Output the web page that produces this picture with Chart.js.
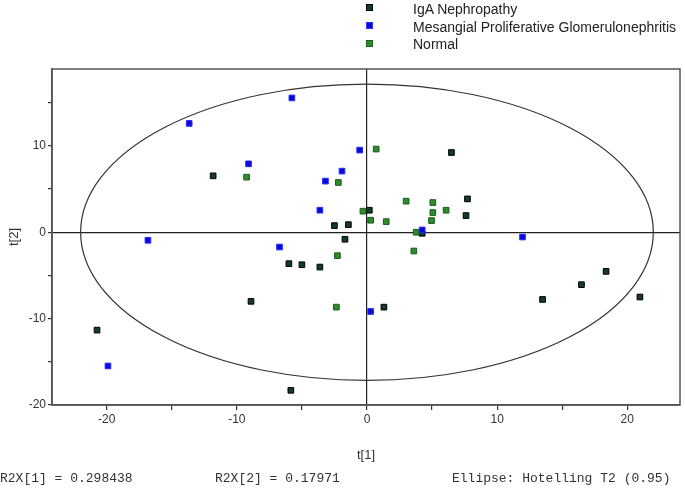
<!DOCTYPE html>
<html>
<head>
<meta charset="utf-8">
<script src="https://cdn.jsdelivr.net/npm/chart.js@4.4.1/dist/chart.umd.min.js"></script>
<style>
  body { margin: 0; background: #fff; }
  #wrap { position: relative; width: 685px; height: 491px; overflow: hidden; }
  #chart { position: absolute; left: 0; top: 0; }
  .leg { position: absolute; left: 413px; font: 14px "Liberation Sans", Arial, sans-serif; color: #222; line-height: 17px; }
  .mk { position: absolute; left: 366px; width: 5px; height: 5px; }
  .foot { position: absolute; top: 471px; font: 13px "Liberation Mono", "Courier New", monospace; color: #333; white-space: pre; }
</style>
</head>
<body>
<div id="wrap">
  <canvas id="chart" width="685" height="491"></canvas>
  <div class="mk" style="top:4px;background:#133d20;border:1px solid #000"></div>
  <div class="leg" style="top:1px">IgA Nephropathy</div>
  <div class="mk" style="top:22px;background:#0a0ad8;border:1px solid #3030ff"></div>
  <div class="leg" style="top:19px">Mesangial Proliferative Glomerulonephritis</div>
  <div class="mk" style="top:40px;background:#2e8b2e;border:1px solid #1a5e1a"></div>
  <div class="leg" style="top:36px">Normal</div>
  <div class="foot" style="left:0px">R2X[1] = 0.298438</div>
  <div class="foot" style="left:215px">R2X[2] = 0.17971</div>
  <div class="foot" style="left:452px">Ellipse: Hotelling T2 (0.95)</div>
</div>
<script>
// score values
const igaT1 = [-11.82, 6.49, 7.72, 7.61, 0.18, -2.5, -1.43, 4.24, -1.69, -6.0, -5.0, -3.62, -8.91, -20.74, 1.3, -5.85, 18.37, 16.48, 13.49, 20.97];
const igaT2 = [6.53, 9.23, 3.86, 1.93, 2.55, 0.77, 0.88, -0.12, -0.81, -3.64, -3.76, -4.03, -8.0, -11.33, -8.67, -18.3, -4.53, -6.07, -7.78, -7.5];

const mpgnT1 = [-13.66, -9.1, -5.77, -0.56, -1.92, -3.19, -3.62, 4.24, -16.83, -6.72, -19.9, 0.28, 11.95];
const mpgnT2 = [12.6, 7.92, 15.55, 9.51, 7.08, 5.92, 2.55, 0.27, -0.93, -1.71, -15.48, -9.17, -0.55];

const normT1 = [-9.25, 0.71, -2.2, 3.01, 5.06, 6.08, 5.06, -0.31, 0.28, 1.48, 4.96, 3.78, 3.6, -2.27, -2.35];
const normT2 = [6.38, 9.63, 5.76, 3.6, 3.44, 2.55, 2.28, 2.44, 1.39, 1.23, 1.35, 0.0, -2.17, -2.71, -8.67];

// tick positions (labels only every 10)
const xTicks = [-20, -15, -10, -5, 0, 5, 10, 15, 20];
const yTicks = [-20, -15, -10, -5, 0, 5, 10, 15];

// Hotelling T2 (0.95) ellipse semi-axes
const ellipseA = 22.0;
const ellipseB = 17.15;

function toPoints(xs, ys) {
  return xs.map((x, i) => ({ x: x, y: ys[i] }));
}

const ellipsePlugin = {
  id: "hotelling",
  beforeDatasetsDraw(chart) {
    const ctx = chart.ctx;
    const xs = chart.scales.x, ys = chart.scales.y;
    const cx = xs.getPixelForValue(0), cy = ys.getPixelForValue(0);
    const rx = xs.getPixelForValue(ellipseA) - cx;
    const ry = cy - ys.getPixelForValue(ellipseB);
    ctx.save();
    ctx.strokeStyle = "#333";
    ctx.lineWidth = 1.2;
    ctx.beginPath();
    ctx.ellipse(cx, cy, rx, ry, 0, 0, Math.PI * 2);
    ctx.stroke();
    ctx.restore();
  },
  afterDraw(chart) {
    const a = chart.chartArea, ctx = chart.ctx;
    ctx.save();
    ctx.strokeStyle = "#555";
    ctx.lineWidth = 1.5;
    ctx.strokeRect(a.left, a.top, a.right - a.left, a.bottom - a.top);
    ctx.restore();
  }
};

const zeroGrid = (c) => (c.tick && c.tick.value === 0 ? "#222" : "rgba(0,0,0,0)");
const tens = (v) => (Math.round(v) % 10 === 0 ? String(Math.round(v)) : "");
const tickFont = { family: "'Liberation Sans', Arial, sans-serif", size: 12 };
const titleFont = { family: "'Liberation Sans', Arial, sans-serif", size: 13 };

new Chart(document.getElementById("chart"), {
  type: "scatter",
  data: {
    datasets: [
      {
        label: "IgA Nephropathy",
        data: toPoints(igaT1, igaT2),
        backgroundColor: "#133d20",
        borderColor: "#000",
        order: 3,
      },
      {
        label: "Mesangial Proliferative Glomerulonephritis",
        data: toPoints(mpgnT1, mpgnT2),
        backgroundColor: "#0a0ad8",
        borderColor: "#2a2aff",
        order: 1,
      },
      {
        label: "Normal",
        data: toPoints(normT1, normT2),
        backgroundColor: "#2e8b2e",
        borderColor: "#1a5e1a",
        order: 2,
      },
    ],
  },
  options: {
    responsive: false,
    animation: false,
    events: [],
    elements: { point: { pointStyle: "rect", radius: 4, borderWidth: 1 } },
    layout: { padding: { top: 69, right: 3, bottom: 26, left: 0 } },
    plugins: { legend: { display: false }, tooltip: { enabled: false } },
    scales: {
      x: {
        type: "linear",
        min: -24.2,
        max: 24.05,
        afterBuildTicks: (axis) => { axis.ticks = xTicks.map((v) => ({ value: v })); },
        afterFit: (s) => { s.height = 60; },
        ticks: { autoSkip: false, maxRotation: 0, padding: 2, color: "#333", font: tickFont, callback: tens },
        grid: { color: zeroGrid, tickColor: "#333", tickLength: 5, lineWidth: 1.2 },
        border: { display: true, color: "#444", width: 1.5 },
        title: { display: true, text: "t[1]", color: "#333", font: titleFont, padding: { top: 0, bottom: 2 } },
      },
      y: {
        type: "linear",
        min: -20,
        max: 18.9,
        afterBuildTicks: (axis) => { axis.ticks = yTicks.map((v) => ({ value: v })); },
        afterFit: (s) => { s.width = 52; },
        ticks: { autoSkip: false, padding: 2, color: "#333", font: tickFont, callback: tens },
        grid: { color: zeroGrid, tickColor: "#333", tickLength: 4, lineWidth: 1.2 },
        border: { display: true, color: "#444", width: 1.5 },
        title: { display: true, text: "t[2]", color: "#333", font: titleFont, padding: { top: 7, bottom: 0 } },
      },
    },
  },
  plugins: [ellipsePlugin],
});
</script>
</body>
</html>
